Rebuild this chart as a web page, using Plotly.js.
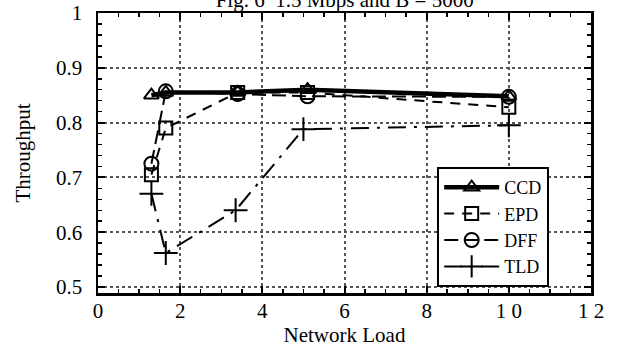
<!DOCTYPE html>
<html>
<head>
<meta charset="utf-8">
<script src="https://cdn.plot.ly/plotly-3.0.1.min.js"></script>
<style>html,body{margin:0;padding:0;background:#fff;}#chart{width:621px;height:349px;}</style>
</head>
<body>
<div id="chart"></div>
<script>
const titleText = "Fig. 6  1.5 Mbps and B = 5000";
const xTickVals = [0, 2, 4, 6, 8, 10, 12];
const xTickText = ["0", "2", "4", "6", "8", "1 0", "1 2"];
const yTickVals = [0.5, 0.6, 0.7, 0.8, 0.9, 1];
const yTickText = ["0.5", "0.6", "0.7", "0.8", "0.9", "1"];

const ccdX = [1.3, 1.65, 3.4, 5.1, 10];
const ccdY = [0.850, 0.855, 0.855, 0.860, 0.848];
const epdX = [1.3, 1.65, 3.4, 5.1, 10];
const epdY = [0.705, 0.790, 0.855, 0.855, 0.828];
const dffX = [1.3, 1.65, 3.4, 5.1, 10];
const dffY = [0.725, 0.857, 0.852, 0.848, 0.847];
const tldX = [1.3, 1.65, 3.35, 5.0, 10];
const tldY = [0.670, 0.562, 0.640, 0.788, 0.795];

const FAM = "Liberation Serif";

const traces = [
  {x: ccdX, y: ccdY, name: "CCD", mode: "lines+markers",
   line: {color: "#000", width: 4.5},
   marker: {symbol: "triangle-up-open", size: 13, color: "#000", line: {width: 2, color: "#000"}}},
  {x: epdX, y: epdY, name: "EPD", mode: "lines+markers",
   line: {color: "#000", width: 2, dash: "10px,8px"},
   marker: {symbol: "square-open", size: 13, color: "#000", line: {width: 2, color: "#000"}}},
  {x: dffX, y: dffY, name: "DFF", mode: "lines+markers",
   line: {color: "#000", width: 2, dash: "14px,6px"},
   marker: {symbol: "circle-open", size: 14, color: "#000", line: {width: 2, color: "#000"}}},
  {x: tldX, y: tldY, name: "TLD", mode: "lines+markers",
   line: {color: "#000", width: 2, dash: "18px,8px,3px,8px"},
   marker: {symbol: "cross-thin-open", size: 17, color: "#000", line: {width: 2, color: "#000"}}}
];

const axisCommon = {
  showline: true, linecolor: "#000", linewidth: 2.5, mirror: "ticks",
  ticks: "inside", ticklen: 7, tickwidth: 2, tickcolor: "#000",
  showgrid: true, gridcolor: "#555", griddash: "dot", gridwidth: 2,
  zeroline: false,
  tickfont: {family: FAM, size: 21, color: "#000"}
};

const layout = {
  width: 621, height: 349,
  margin: {l: 98, r: 30, t: 13, b: 56},
  paper_bgcolor: "#fff", plot_bgcolor: "#fff",
  font: {family: FAM, color: "#000"},
  showlegend: true,
  title: {text: titleText, font: {family: FAM, size: 21, color: "#000"},
          x: 0.555, xanchor: "center", y: 1.0, yref: "container", yanchor: "middle"},
  xaxis: Object.assign({}, axisCommon, {
    range: [0, 12], tickmode: "array", tickvals: xTickVals, ticktext: xTickText,
    minor: {dtick: 0.5, ticks: "inside", ticklen: 4, tickwidth: 1.5, tickcolor: "#000", showgrid: false},
    title: {text: "Network Load", font: {family: FAM, size: 21, color: "#000"}, standoff: 0},
    ticklabelstandoff: -3
  }),
  yaxis: Object.assign({}, axisCommon, {
    range: [0.489, 1.0], tickmode: "array", tickvals: yTickVals, ticktext: yTickText,
    minor: {dtick: 0.02, ticks: "inside", ticklen: 4, tickwidth: 1.5, tickcolor: "#000", showgrid: false},
    title: {text: "Throughput", font: {family: FAM, size: 21, color: "#000"}, standoff: 20},
    ticklabelstandoff: 9
  }),
  legend: {
    x: 0.688, y: 0.45, xanchor: "left", yanchor: "top",
    bgcolor: "#fff", bordercolor: "#000", borderwidth: 2,
    font: {family: FAM, size: 18, color: "#000"},
    tracegroupgap: 0, itemwidth: 55
  }
};

Plotly.newPlot("chart", traces, layout, {displayModeBar: false, staticPlot: true});
</script>
</body>
</html>
